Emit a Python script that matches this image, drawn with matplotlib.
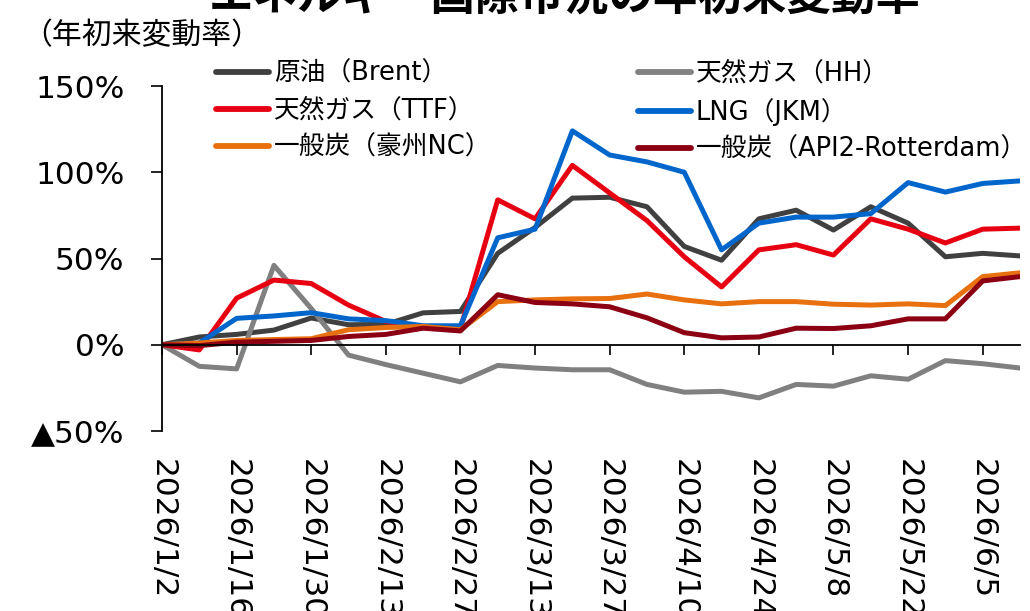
import matplotlib
matplotlib.use('Agg')
import matplotlib.pyplot as plt
import matplotlib.dates as mdates
import pandas as pd

# ---- data ----
dates = pd.date_range('2026-01-02', periods=24, freq='7D')
tick_labels = ['2026/1/2', '2026/1/16', '2026/1/30', '2026/2/13', '2026/2/27', '2026/3/13',
               '2026/3/27', '2026/4/10', '2026/4/24', '2026/5/8', '2026/5/22', '2026/6/5']
tick_dates = pd.to_datetime(tick_labels, format='%Y/%m/%d')

brent = [0, 4.5, 6, 8.5, 15.5, 11.6, 11.8, 18.5, 19.3, 53, 68, 85, 85.5, 80, 57, 49,
         73, 78, 66.5, 80, 70.5, 51, 53, 51.5]
hh = [0, -12.5, -14, 46, 21, -6, -11.5, -16.5, -21.5, -12, -13.5, -14.5, -14.5, -23,
      -27.5, -27, -30.8, -23, -24, -18, -20, -9.2, -11, -13.5]
ttf = [0, -3, 27, 37.5, 35.5, 23, 13.5, 10.5, 9.5, 84, 73, 104, 88, 72, 51, 33.5,
       55, 58, 52, 73, 67, 59, 67, 67.6]
jkm = [0, 1, 15.3, 16.7, 18.6, 15, 14, 11, 11, 62, 67, 124, 110, 106, 100, 55,
       70.5, 74, 74, 76, 94, 88.5, 93.5, 95]
nc = [0, 1, 2.5, 3, 3.5, 8.7, 10, 10.6, 8.7, 25, 26, 26.6, 26.8, 29.4, 26, 23.7,
      25, 25, 23.5, 23, 23.7, 22.7, 39.5, 41.7]
api2 = [0, -0.5, 1.5, 2, 2.5, 4.8, 6, 9.6, 8, 29, 24.5, 23.7, 22, 15.6, 7, 4,
        4.5, 9.6, 9.4, 11, 15, 15, 37, 39.5]

series_names = ['原油（Brent）', '天然ガス（HH）', '天然ガス（TTF）', 'LNG（JKM）',
                '一般炭（豪州NC）', '一般炭（API2-Rotterdam）']
series_values = [brent, hh, ttf, jkm, nc, api2]
series_colors = ['#404040', '#808080', '#E60012', '#0066CC', '#E8700E', '#8B0012']

y_ticks = [-50, 0, 50, 100, 150]
y_labels = ['▲50%', '0%', '50%', '100%', '150%']

title = 'エネルギー国際市況の年初来変動率'
ylabel = '（年初来変動率）'

# ---- figure ----
W, H = 1030, 611
fig = plt.figure(figsize=(W / 100, H / 100), dpi=100)
ax = fig.add_axes([162 / W, 1 - 431 / H, (1020 - 162) / W, (431 - 86) / H])

x = mdates.date2num(dates.to_pydatetime())
xt = mdates.date2num(tick_dates.to_pydatetime())

CJK = ['DejaVu Sans', 'Noto Sans CJK JP']

for s in ['top', 'right']:
    ax.spines[s].set_visible(False)
ax.spines['bottom'].set_position(('data', 0))
for s in ['left', 'bottom']:
    ax.spines[s].set_linewidth(1.3)
    ax.spines[s].set_color('black')

lines = {}
for name, vals, col in zip(series_names, series_values, series_colors):
    ln, = ax.plot(x, vals, color=col, lw=3.6, solid_capstyle='round',
                  solid_joinstyle='round', label=name)
    lines[name] = ln

ax.set_xlim(x[0], x[-1])
ax.set_ylim(-50, 150)
ax.set_yticks(y_ticks)
ax.set_yticklabels(y_labels, fontsize=22.5, family=CJK)
ax.set_xticks(xt)
ax.set_xticklabels(tick_labels, rotation=-90, fontsize=22.5, family=CJK,
                   ha='center', va='top')

ax.tick_params(axis='y', direction='out', length=8, width=1.2, pad=19)
ax.tick_params(axis='x', direction='out', length=7.5, width=1.2, pad=75)

# legends
h = [lines[n] for n in series_names]
kw = dict(frameon=False, handlelength=2.05, handletextpad=0.2,
          labelspacing=0.42, borderpad=0, borderaxespad=0, loc='upper left',
          prop={'family': CJK, 'size': 18.5})
leg1 = fig.legend([h[0], h[2], h[4]], [series_names[0], series_names[2], series_names[4]],
                  bbox_to_anchor=(216 / W, 1 - 61 / H), **kw)
leg2 = fig.legend([h[1], h[3], h[5]], [series_names[1], series_names[3], series_names[5]],
                  bbox_to_anchor=(638 / W, 1 - 61 / H), **kw)
for leg in (leg1, leg2):
    for l in leg.get_lines():
        l.set_linewidth(4.2)
        l.set_solid_capstyle('round')

fig.text(22 / W, 1 - 36 / H, ylabel, fontsize=21.5, family=['Noto Sans CJK JP'],
         va='center', ha='left')
fig.text(565 / W, 1 - 11 / H, title, fontsize=32, fontweight='bold',
         family=['Noto Sans CJK JP'], va='baseline', ha='center')

fig.savefig('out.png', dpi=100)
